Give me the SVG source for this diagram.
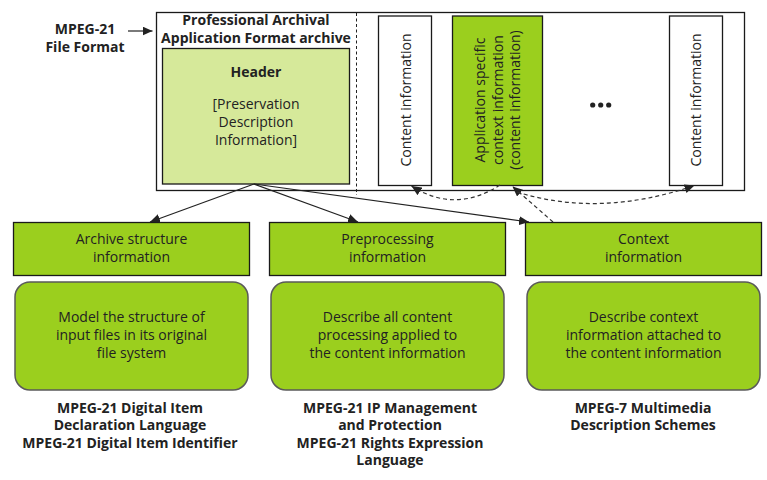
<svg xmlns="http://www.w3.org/2000/svg" width="767" height="480" viewBox="0 0 767 480">
<style>
text{font-family:"Open Sans","Liberation Sans",sans-serif;fill:#222;text-anchor:middle}
.r{font-size:14px}
.b{font-size:14px;font-weight:bold}
.box{stroke:#1a1a1a;stroke-width:1.3}
.g{fill:#9bcf1e}
.w{fill:#fff}
.lg{fill:#d6e99a}
.rb{fill:#9bcf1e;stroke:#5a5a5a;stroke-width:1.5}
.con{fill:none;stroke:#222;stroke-width:1.2}
.dash{fill:none;stroke:#333;stroke-width:1.2;stroke-dasharray:4 3}
</style>
<defs>
<marker id="ah" markerUnits="userSpaceOnUse" markerWidth="10" markerHeight="9" refX="10" refY="4.5" orient="auto" viewBox="0 0 10 9">
<path d="M0,0 L10,4.5 L0,9 z" fill="#222"/>
</marker>
</defs>
<rect class="w" x="0" y="0" width="767" height="480"/>

<g id="archive">
<rect class="box w" x="156.5" y="12.5" width="588" height="178" fill="none"/>
<text class="b"><tspan x="256" y="25">Professional Archival</tspan><tspan x="256" y="42.5">Application Format archive</tspan></text>
</g>
<line x1="356.5" y1="13" x2="356.5" y2="195" stroke="#222" stroke-width="1" stroke-dasharray="3 2.5"/>

<g id="label-file-format">
<text class="b"><tspan x="85" y="33.5">MPEG-21</tspan><tspan x="85" y="51.5">File Format</tspan></text>
</g>

<g id="header">
<rect class="box lg" x="162.5" y="48.5" width="187" height="135.5"/>
<text class="b" x="256" y="77">Header</text>
<text class="r"><tspan x="256" y="109">[Preservation</tspan><tspan x="256" y="127">Description</tspan><tspan x="256" y="145">Information]</tspan></text>
</g>

<g id="content1">
<rect class="box w" x="378.5" y="16" width="53" height="169.5"/>
<text class="r" transform="translate(411,100) rotate(-90)">Content information</text>
</g>

<g id="appctx">
<rect class="box g" x="452.5" y="16" width="90" height="169.5"/>
<text class="r" transform="translate(485,100) rotate(-90)">Application specific</text>
<text class="r" transform="translate(502.5,100) rotate(-90)">context information</text>
<text class="r" transform="translate(520,100) rotate(-90)">(content information)</text>
</g>

<g id="ellipsis">
<circle cx="592.7" cy="105" r="2.6" fill="#222"/>
<circle cx="600.7" cy="105" r="2.6" fill="#222"/>
<circle cx="608.7" cy="105" r="2.6" fill="#222"/>
</g>

<g id="content2">
<rect class="box w" x="669.5" y="16" width="53" height="169.5"/>
<text class="r" transform="translate(701,100) rotate(-90)">Content information</text>
</g>

<g id="archive-structure">
<rect class="box g" x="13.5" y="222.5" width="236" height="53"/>
<text class="r"><tspan x="131.5" y="244">Archive structure</tspan><tspan x="131.5" y="261.5">information</tspan></text>
</g>
<g id="preprocessing">
<rect class="box g" x="269.5" y="222.5" width="236" height="53"/>
<text class="r"><tspan x="387.5" y="244">Preprocessing</tspan><tspan x="387.5" y="261.5">information</tspan></text>
</g>
<g id="context">
<rect class="box g" x="525.5" y="222.5" width="236" height="53"/>
<text class="r"><tspan x="643.5" y="244">Context</tspan><tspan x="643.5" y="261.5">information</tspan></text>
</g>

<g id="desc-archive">
<rect class="rb" x="15" y="282" width="233" height="108" rx="15"/>
<text class="r"><tspan x="131.5" y="322">Model the structure of</tspan><tspan x="131.5" y="340">input files in its original</tspan><tspan x="131.5" y="358">file system</tspan></text>
</g>
<g id="desc-preprocessing">
<rect class="rb" x="271" y="282" width="233" height="108" rx="15"/>
<text class="r"><tspan x="387.5" y="322">Describe all content</tspan><tspan x="387.5" y="340">processing applied to</tspan><tspan x="387.5" y="358">the content information</tspan></text>
</g>
<g id="desc-context">
<rect class="rb" x="527" y="282" width="233" height="108" rx="15"/>
<text class="r"><tspan x="643.5" y="322">Describe context</tspan><tspan x="643.5" y="340">information attached to</tspan><tspan x="643.5" y="358">the content information</tspan></text>
</g>

<g id="std-archive">
<text class="b"><tspan x="130" y="412.5">MPEG-21 Digital Item</tspan><tspan x="130" y="430">Declaration Language</tspan><tspan x="130" y="447.5">MPEG-21 Digital Item Identifier</tspan></text>
</g>
<g id="std-preprocessing">
<text class="b"><tspan x="390" y="412.5">MPEG-21 IP Management</tspan><tspan x="390" y="430">and Protection</tspan><tspan x="390" y="447.5">MPEG-21 Rights Expression</tspan><tspan x="390" y="465">Language</tspan></text>
</g>
<g id="std-context">
<text class="b"><tspan x="643" y="412.5">MPEG-7 Multimedia</tspan><tspan x="643" y="430">Description Schemes</tspan></text>
</g>

<g id="connectors">
<line class="con" x1="128" y1="31" x2="152.5" y2="31" marker-end="url(#ah)"/>
<line class="con" x1="254" y1="184" x2="150" y2="222" marker-end="url(#ah)"/>
<line class="con" x1="254" y1="184" x2="358" y2="222" marker-end="url(#ah)"/>
<line class="con" x1="254" y1="184" x2="529" y2="222" marker-end="url(#ah)"/>
<path class="dash" d="M500,185 Q455,214 411.5,186" marker-end="url(#ah)"/>
<path class="dash" d="M553,222 L512.5,186.5" marker-end="url(#ah)"/>
<path class="dash" d="M517,192 Q600,218 694.5,185.5" marker-end="url(#ah)"/>
</g>
</svg>
